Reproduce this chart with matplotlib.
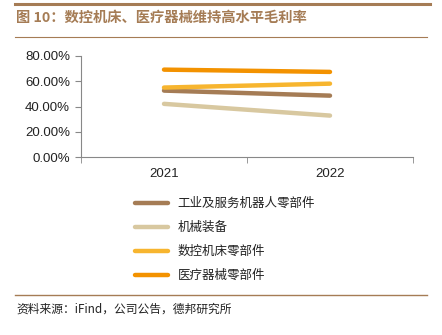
import matplotlib
matplotlib.use("Agg")
import matplotlib.pyplot as plt
from matplotlib.lines import Line2D

plt.rcParams['font.family'] = ['Noto Sans CJK SC', 'DejaVu Sans']

# data
years = ['2021', '2022']
robot_parts = [52.6, 48.6]
machinery = [42.1, 32.8]
cnc_parts = [55.0, 58.1]
medical_parts = [69.2, 67.4]

series_names = ['工业及服务机器人零部件', '机械装备', '数控机床零部件', '医疗器械零部件']
series_values = [robot_parts, machinery, cnc_parts, medical_parts]
colors = ['#A57C55', '#D8C8A0', '#F7B52F', '#F39200']

title = '图 10：数控机床、医疗器械维持高水平毛利率'
source = '资料来源：iFind，公司公告，德邦研究所'
brown = '#A57C55'

fig = plt.figure(figsize=(4.42, 3.35), dpi=100)
ax = fig.add_axes([81 / 442, 1 - 157 / 335, (413 - 81) / 442, (157 - 56) / 335])

x = range(len(years))
for vals, c in zip(series_values, colors):
    ax.plot(x, [v / 100 for v in vals], color=c, lw=3.2, solid_capstyle='round')

ax.set_xlim(-0.5, 1.5)
ax.set_ylim(0, 0.8)
ax.set_yticks([0, 0.2, 0.4, 0.6, 0.8])
ax.set_yticklabels(['%.2f%%' % (v * 100) for v in [0, 0.2, 0.4, 0.6, 0.8]],
                   family='Liberation Sans', fontsize=9.5, color='#222222')
ax.set_xticks(list(x))
ax.set_xticklabels(years, family='Liberation Sans', fontsize=9.5, color='#222222')
ax.set_xticks([-0.5, 0.5, 1.5], minor=True)
ax.tick_params(axis='x', which='major', length=0, pad=8)
ax.tick_params(axis='x', which='minor', length=4, color='#888888')
ax.tick_params(axis='y', length=4, color='#888888', pad=4)
for s in ['top', 'right']:
    ax.spines[s].set_visible(False)
for s in ['left', 'bottom']:
    ax.spines[s].set_color('#888888')
    ax.spines[s].set_linewidth(0.8)

handles = [Line2D([], [], color=c, lw=3.2, solid_capstyle='round') for c in colors]
fig.legend(handles, series_names, loc='upper left', bbox_to_anchor=(124 / 442, 1 - 186 / 335),
           frameon=False, fontsize=9, handlelength=2.6, handletextpad=0.8,
           labelspacing=0.88, labelcolor='#222222')

# header / footer decoration
fig.add_artist(Line2D([15 / 442, 430 / 442], [1 - 4 / 335] * 2, color=brown, lw=2.2))
fig.add_artist(Line2D([15 / 442, 427 / 442], [1 - 37 / 335] * 2, color=brown, lw=0.8))
fig.add_artist(Line2D([15 / 442, 427 / 442], [1 - 295 / 335] * 2, color=brown, lw=1.0))
fig.text(16 / 442, 1 - 18 / 335, title, fontsize=10.3, fontweight='bold', color=brown,
         va='center', ha='left')
fig.text(16 / 442, 1 - 309 / 335, source, fontsize=8.5, color='#222222',
         va='center', ha='left')

fig.savefig('out.png', dpi=100, facecolor='white')
